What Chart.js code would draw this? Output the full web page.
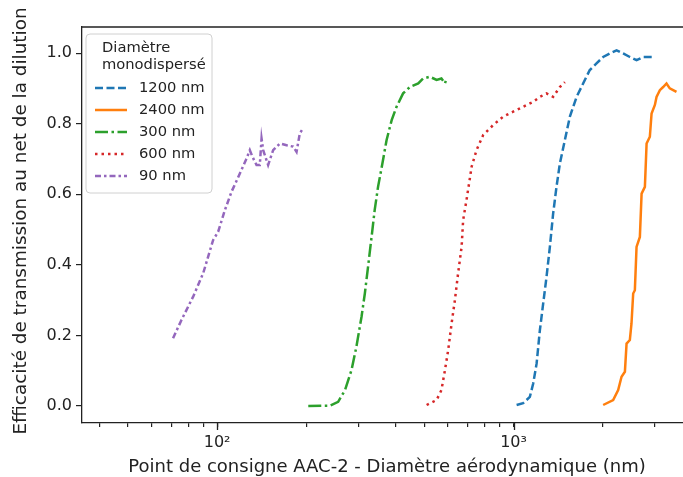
<!DOCTYPE html>
<html>
<head>
<meta charset="utf-8">
<script src="https://cdn.jsdelivr.net/npm/chart.js@4.4.1/dist/chart.umd.min.js"></script>
<style>
html, body { margin: 0; padding: 0; background: #fff; overflow: hidden; }
#wrap { width: 683px; height: 477px; overflow: hidden; }
</style>
</head>
<body>
<div id="wrap"><canvas id="myChart" width="700" height="477"></canvas></div>
<script>
// legend labels (same order as plotted)
const seriesLabels = ['1200 nm', '2400 nm', '300 nm', '600 nm', '90 nm'];

// 1200 nm
const x1200 = [1024, 1077, 1135, 1165, 1196, 1227, 1259, 1292, 1326, 1360, 1396, 1433, 1490, 1549, 1632, 1717, 1808, 1905, 2006, 2113, 2226, 2343, 2468, 2600, 2737, 2958];
const y1200 = [0.003, 0.008, 0.026, 0.064, 0.120, 0.215, 0.291, 0.366, 0.451, 0.545, 0.621, 0.687, 0.754, 0.820, 0.876, 0.914, 0.952, 0.971, 0.989, 0.999, 1.008, 0.999, 0.989, 0.980, 0.989, 0.989];

// 2400 nm
const x2400 = [2006, 2168, 2254, 2314, 2375, 2406, 2468, 2500, 2533, 2566, 2600, 2668, 2704, 2774, 2811, 2883, 2922, 2998, 3037, 3116, 3197, 3281, 3366, 3455, 3546];
const y2400 = [0.003, 0.017, 0.045, 0.083, 0.097, 0.177, 0.187, 0.234, 0.319, 0.328, 0.451, 0.479, 0.602, 0.621, 0.744, 0.763, 0.829, 0.853, 0.876, 0.895, 0.904, 0.914, 0.900, 0.895, 0.890];

// 300 nm
const x300 = [203, 240, 256, 270, 284, 295, 307, 315, 323, 332, 340, 349, 361, 373, 388, 403, 424, 447, 477, 495, 522, 550, 571, 587, 594];
const y300 = [0.000, 0.001, 0.012, 0.045, 0.102, 0.168, 0.253, 0.319, 0.395, 0.480, 0.555, 0.621, 0.687, 0.754, 0.810, 0.848, 0.886, 0.904, 0.914, 0.928, 0.933, 0.924, 0.928, 0.914, 0.928];

// 600 nm
const x600 = [509, 550, 571, 587, 602, 618, 634, 650, 668, 676, 694, 708, 722, 750, 790, 853, 923, 997, 1077, 1165, 1227, 1292, 1360, 1433, 1490];
const y600 = [0.003, 0.017, 0.045, 0.102, 0.159, 0.234, 0.300, 0.376, 0.451, 0.527, 0.584, 0.631, 0.678, 0.725, 0.768, 0.796, 0.820, 0.834, 0.848, 0.862, 0.876, 0.886, 0.876, 0.904, 0.918];

// 90 nm
const x90 = [71.0, 75.8, 83.0, 89.7, 96.9, 100.8, 106.2, 111.8, 119.3, 125.0, 128.9, 131.6, 135.8, 139.3, 141.2, 143.0, 148.6, 154.5, 162.8, 171.5, 180.5, 185.3, 190.1, 195.0];
const y90 = [0.192, 0.244, 0.310, 0.376, 0.470, 0.494, 0.555, 0.607, 0.659, 0.697, 0.725, 0.706, 0.683, 0.683, 0.758, 0.725, 0.683, 0.725, 0.744, 0.739, 0.735, 0.720, 0.773, 0.787];

// axis ticks
const xTickValues = [40, 50, 60, 70, 80, 90, 100, 200, 300, 400, 500, 600, 700, 800, 900, 1000, 2000, 3000];
const xMajorTicks = [100, 1000];
const xTickLabels = { 100: '10²', 1000: '10³' };
const yTickValues = [0, 0.2, 0.4, 0.6, 0.8, 1.0];

const colors = ['#1f77b4', '#ff7f0e', '#2ca02c', '#d62728', '#9467bd'];
const dashes = [[8, 3.5], [], [13, 3.5, 2.5, 3.5], [2.5, 4], [6, 3, 2.5, 3]];
const xs = [x1200, x2400, x300, x600, x90];
const ys = [y1200, y2400, y300, y600, y90];

const FONT = "'DejaVu Sans', sans-serif";
const TEXT = '#222';

const datasets = seriesLabels.map((label, i) => ({
    label: label,
    data: xs[i].map((x, k) => ({ x: x, y: ys[i][k] })),
    borderColor: colors[i],
    backgroundColor: colors[i],
    borderWidth: 2.5,
    borderDash: dashes[i],
    pointRadius: 0,
    tension: 0,
    fill: false
}));

// top spine, longer major ticks, axis titles and the legend box
const extras = {
    id: 'extras',
    afterDraw(chart) {
        const c = chart.ctx;
        const a = chart.chartArea;
        const xs = chart.scales.x;
        c.save();
        c.strokeStyle = TEXT;
        c.lineWidth = 1.3;
        c.beginPath();
        c.moveTo(a.left, a.top);
        c.lineTo(a.right, a.top);
        xMajorTicks.forEach(v => {
            const px = Math.round(xs.getPixelForValue(v)) + 0.5;
            c.moveTo(px, a.bottom);
            c.lineTo(px, a.bottom + 7);
        });
        c.stroke();

        c.fillStyle = TEXT;
        c.font = '18px ' + FONT;
        c.textAlign = 'center';
        c.textBaseline = 'middle';
        c.fillText('Point de consigne AAC-2 - Diamètre aérodynamique (nm)', (a.left + a.right) / 2, 467);
        c.save();
        c.translate(21, (a.top + a.bottom) / 2 - 4);
        c.rotate(-Math.PI / 2);
        c.font = '18.4px ' + FONT;
        c.fillText('Efficacité de transmission au net de la dilution', 0, 0);
        c.restore();

        // legend
        const bx = a.left + 4, by = a.top + 7, bw = 126, bh = 159;
        c.beginPath();
        c.roundRect(bx, by, bw, bh, 4);
        c.fillStyle = 'rgba(255,255,255,0.8)';
        c.fill();
        c.strokeStyle = '#d0d0d0';
        c.lineWidth = 1;
        c.stroke();

        c.fillStyle = TEXT;
        c.font = '14.7px ' + FONT;
        c.textAlign = 'left';
        c.fillText('Diamètre', bx + 16, by + 14);
        c.fillText('monodispersé', bx + 16, by + 31);
        chart.data.datasets.forEach((ds, i) => {
            const yy = by + 54 + i * 22;
            c.strokeStyle = ds.borderColor;
            c.lineWidth = ds.borderWidth;
            c.setLineDash(ds.borderDash);
            c.beginPath();
            c.moveTo(bx + 9, yy);
            c.lineTo(bx + 41, yy);
            c.stroke();
            c.setLineDash([]);
            c.fillStyle = TEXT;
            c.fillText(ds.label, bx + 53, yy);
        });
        c.restore();
    }
};

const ctx = document.getElementById('myChart').getContext('2d');
const myChart = new Chart(ctx, {
    type: 'line',
    data: { datasets: datasets },
    options: {
        responsive: false,
        animation: false,
        devicePixelRatio: 1,
        layout: { padding: { top: 27, right: 8, left: 0, bottom: 0 } },
        plugins: { legend: { display: false }, tooltip: { enabled: false } },
        scales: {
            x: {
                type: 'logarithmic',
                min: 35,
                max: 4000,
                afterBuildTicks: s => { s.ticks = xTickValues.map(v => ({ value: v })); },
                afterFit: s => { s.height = 54; },
                border: { color: TEXT, width: 1.3 },
                grid: { drawOnChartArea: false, tickLength: 4, color: TEXT, lineWidth: 1.2 },
                ticks: {
                    autoSkip: false,
                    maxRotation: 0,
                    padding: 6,
                    color: TEXT,
                    font: { family: FONT, size: 16 },
                    callback: v => xTickLabels[v] || ''
                }
            },
            y: {
                min: -0.048,
                max: 1.074,
                afterBuildTicks: s => { s.ticks = yTickValues.map(v => ({ value: v })); },
                afterFit: s => { s.width = 82; },
                border: { color: TEXT, width: 1.3 },
                grid: { drawOnChartArea: false, tickLength: 6, color: TEXT, lineWidth: 1.2 },
                ticks: {
                    padding: 4,
                    color: TEXT,
                    font: { family: FONT, size: 16 },
                    callback: v => v.toFixed(1)
                }
            }
        }
    },
    plugins: [extras]
});
</script>
</body>
</html>
